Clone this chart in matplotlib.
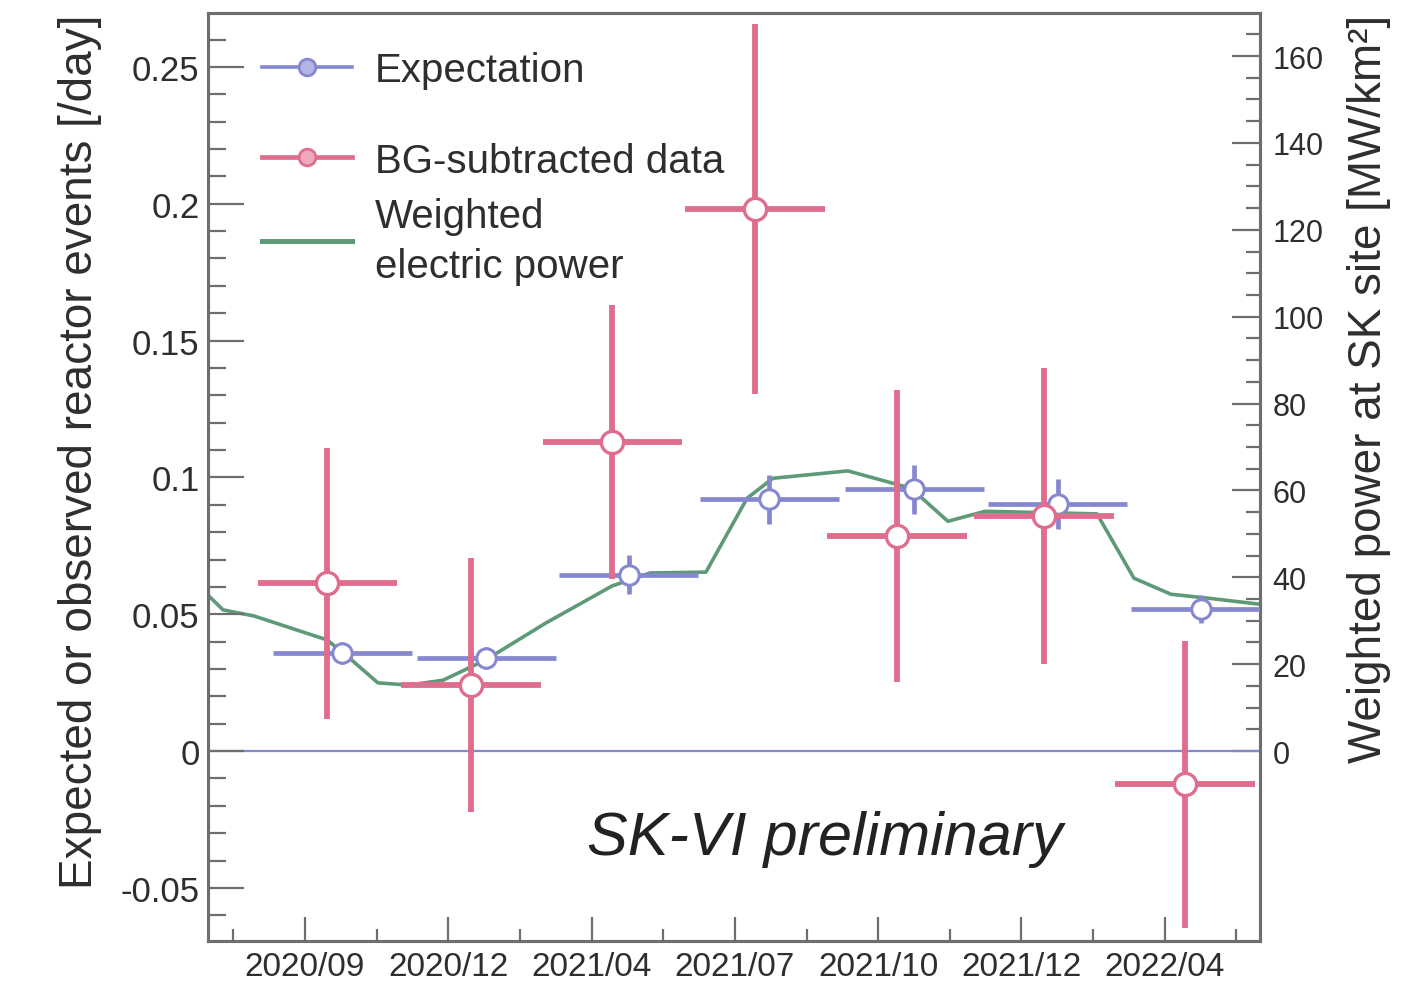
import numpy as np
import matplotlib.pyplot as plt
from matplotlib.ticker import FixedLocator, MultipleLocator, FuncFormatter
from matplotlib.lines import Line2D

plt.rcParams['font.family'] = ['Liberation Sans', 'DejaVu Sans']

# time axis in days, counted from the first labelled tick
tick_days = [0, 99, 198, 297, 396, 495, 594]
tick_labels = ['2020/09', '2020/12', '2021/04', '2021/07', '2021/10', '2021/12', '2022/04']

# BG-subtracted data [/day]
data_day = [15.5, 114.9, 212.4, 310.9, 409.0, 510.4, 607.9]
data_halfwidth = 48.3
data_rate = [0.0614, 0.0241, 0.1130, 0.1980, 0.0786, 0.0859, -0.0121]
data_err = [0.0495, 0.0464, 0.0500, 0.0675, 0.0532, 0.0540, 0.0524]

# expected reactor events [/day]
exp_day = [25.9, 125.4, 223.8, 320.6, 421.1, 519.9, 619.0]
exp_halfwidth = 48.0
exp_rate = [0.0360, 0.0340, 0.0645, 0.0920, 0.0957, 0.0903, 0.0519]
exp_err = [0.004, 0.004, 0.007, 0.009, 0.009, 0.009, 0.005]

# weighted electric power at SK site [MW/km^2]
power_day = [-67.0, -56.6, -35.2, 15.2, 29.0, 50.4, 71.8, 95.3, 124.4, 166.5,
             212.1, 238.3, 277.0, 305.4, 323.3, 375.1, 418.7, 444.2, 469.8,
             547.2, 572.7, 598.3, 623.8, 659.8]
power = [35.9, 32.5, 31.1, 25.6, 21.9, 15.7, 15.2, 16.3, 20.9, 29.5,
         38.0, 41.0, 41.2, 58.2, 62.8, 64.5, 60.5, 52.9, 55.2,
         54.6, 39.8, 36.1, 35.2, 33.8]

RED = '#df6d8d'
BLUE = '#8587cf'
GREEN = '#5f9a78'
FRAME = '#6e6e6e'
TXT = '#2e2e2e'

W, H = 1424, 987
L, R, T, B = 208, 1260, 14, 942

fig = plt.figure(figsize=(W / 100, H / 100), dpi=100)
ax = fig.add_axes([L / W, 1 - B / H, (R - L) / W, (B - T) / H])
ax2 = ax.twinx()
ax.set_zorder(ax2.get_zorder() + 1)
ax.patch.set_visible(False)

ylo, yhi = -0.0694, 0.2697
scale = 630.0  # power units per event rate unit
ax.set_xlim(-67.0, 659.8)
ax.set_ylim(ylo, yhi)
ax2.set_ylim(ylo * scale, yhi * scale)

ax.axhline(0, color=BLUE, lw=1.6, zorder=1)

ax2.plot(power_day, power, color=GREEN, lw=2.6)

ax.errorbar(exp_day, exp_rate, xerr=exp_halfwidth, yerr=exp_err, fmt='o',
            color=BLUE, ms=14, mfc='white', mec=BLUE, mew=2.2,
            elinewidth=3.4, capsize=0, zorder=3)
ax.errorbar(data_day, data_rate, xerr=data_halfwidth, yerr=data_err, fmt='o',
            color=RED, ms=16, mfc='white', mec=RED, mew=2.4,
            elinewidth=4.2, capsize=0, zorder=4)

# axes styling
for a in (ax, ax2):
    for s in a.spines.values():
        s.set_color(FRAME)
        s.set_linewidth(2.2)

ax.xaxis.set_major_locator(FixedLocator(tick_days))
ax.xaxis.set_minor_locator(FixedLocator(np.arange(-49.5, 660, 99)))
ax.set_xticklabels(tick_labels)
ax.tick_params(axis='x', which='both', direction='in', top=False, bottom=True,
               colors=FRAME, labelcolor=TXT, labelsize=24, pad=7, width=1.6)
ax.tick_params(axis='x', which='major', length=17)
ax.tick_params(axis='x', which='minor', length=9)

ax.yaxis.set_major_locator(MultipleLocator(0.05))
ax.yaxis.set_minor_locator(MultipleLocator(0.01))
ax.yaxis.set_major_formatter(FuncFormatter(lambda v, p: f'{round(v, 3) + 0.0:g}'))
ax.tick_params(axis='y', which='both', direction='in', left=True, right=False,
               colors=FRAME, labelcolor=TXT, labelsize=25, pad=6, width=1.6)
ax.tick_params(axis='y', which='major', length=26)
ax.tick_params(axis='y', which='minor', length=13)

ax2.yaxis.set_major_locator(FixedLocator(np.arange(0, 161, 20)))
ax2.yaxis.set_minor_locator(FixedLocator(np.arange(0, 168, 5)))
ax2.tick_params(axis='y', which='both', direction='in', colors=FRAME,
                labelcolor=TXT, labelsize=22, pad=9, width=1.6)
ax2.tick_params(axis='y', which='major', length=20)
ax2.tick_params(axis='y', which='minor', length=10)

fig.text(80 / W, 1 - 15 / H, 'Expected or observed reactor events [/day]',
         rotation=90, ha='center', va='top', fontsize=33, color=TXT)
fig.text(1369 / W, 1 - 15 / H, 'Weighted power at SK site [MW/km²]',
         rotation=90, ha='center', va='top', fontsize=33, color=TXT)

ax.text(0.5865, 0.0938, 'SK-VI preliminary', transform=ax.transAxes,
        fontsize=44, style='italic', ha='center', va='baseline', color='#222222')


# legend, laid out in figure pixels
def fx(px):
    return px / W


def fy(py):
    return 1 - py / H


def legend_row(py, color, lw, marker=None, mfc=None):
    fig.add_artist(Line2D([fx(262), fx(352)], [fy(py), fy(py)], color=color, lw=lw))
    if marker:
        fig.add_artist(Line2D([fx(307)], [fy(py)], marker=marker, ms=12,
                              mfc=mfc, mec=color, mew=2, color=color))


legend_row(68, BLUE, 2.6, 'o', '#b3b5e6')
legend_row(158, RED, 3.4, 'o', '#eeaabd')
legend_row(242, GREEN, 3.6)
for py, s in [(82, 'Expectation'), (173, 'BG-subtracted data'),
              (228, 'Weighted'), (278, 'electric power')]:
    fig.text(fx(375), fy(py), s, fontsize=29, color=TXT, va='baseline')

fig.savefig('out.png', dpi=100)
